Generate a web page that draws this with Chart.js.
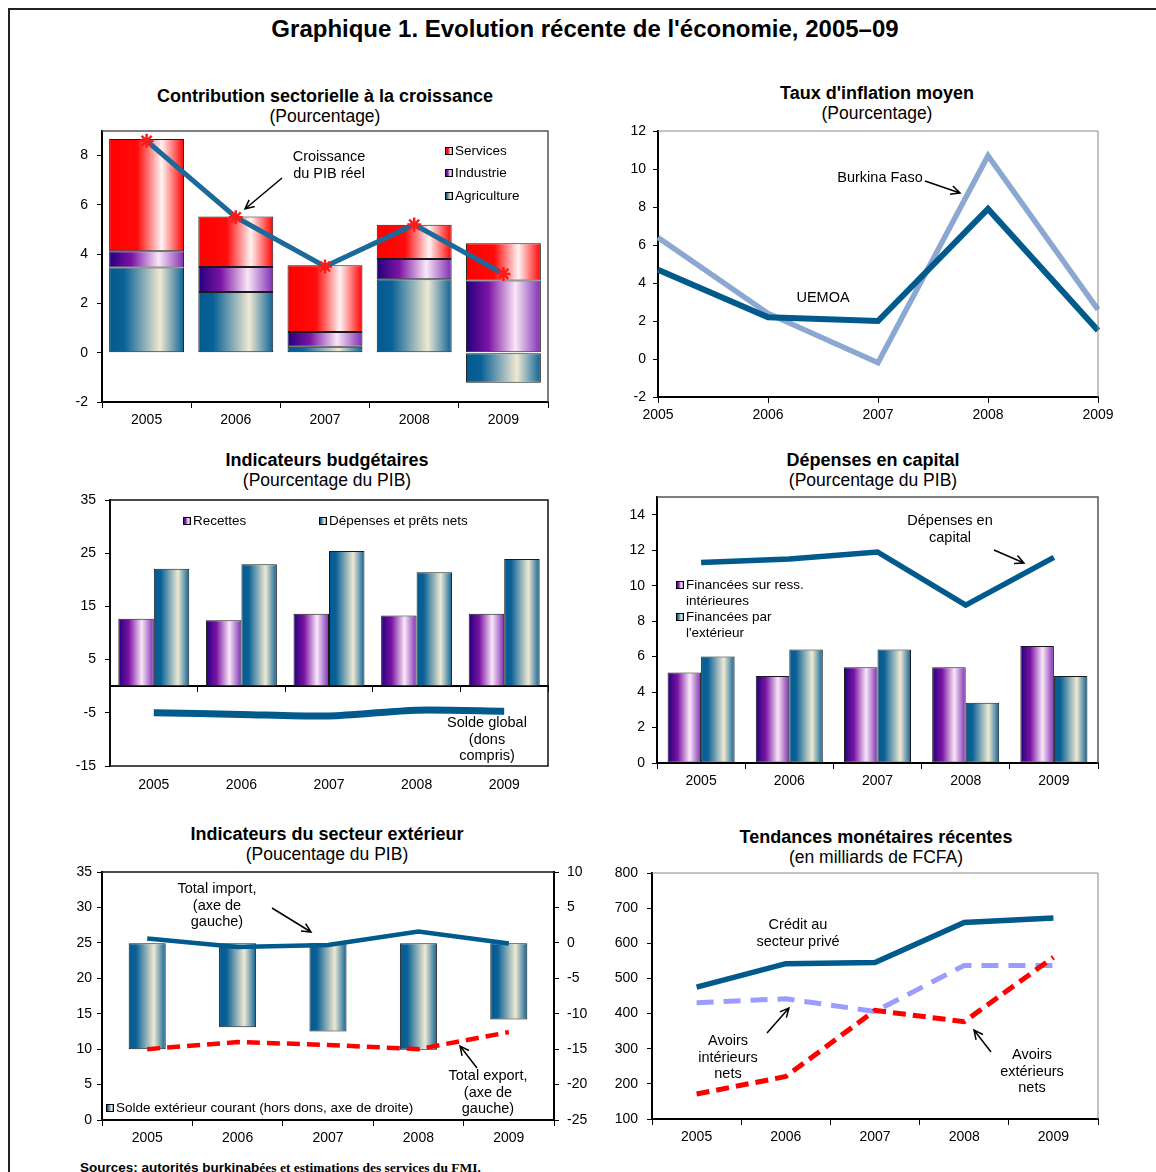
<!DOCTYPE html>
<html lang="fr">
<head>
<meta charset="utf-8">
<title>Graphique 1</title>
<script src="https://cdn.jsdelivr.net/npm/chart.js@4.4.1/dist/chart.umd.min.js"></script>
<style>
  body { margin: 0; background: #fff; width: 1156px; height: 1172px; overflow: hidden; position: relative;
         font-family: "Liberation Sans", Arial, sans-serif; color: #000; }
  #cadre { position: absolute; left: 8px; top: 8px; width: 1300px; height: 1300px;
           border-left: 2px solid #222; border-top: 2px solid #222; }
  .titre { position: absolute; transform: translateX(-50%); text-align: center; white-space: nowrap;
           font-size: 17.5px; line-height: 20px; }
  .titre b { display: block; font-size: 18px; }
  #grand { position: absolute; left: 585px; top: 15px; transform: translateX(-50%); white-space: nowrap;
           font-weight: bold; font-size: 24px; line-height: 28px; }
  #sources { position: absolute; left: 80px; top: 1160px; white-space: nowrap; font-weight: bold;
             font-size: 13.5px; line-height: 16px; }
  #sources span { font-family: "Liberation Serif", "Times New Roman", serif; }
  canvas { position: absolute; }
</style>
</head>
<body>
<div id="cadre"></div>
<div id="grand">Graphique 1. Evolution récente de l'économie, 2005–09</div>

<div class="titre" style="left:325px;top:86px"><b>Contribution sectorielle à la croissance</b>(Pourcentage)</div>
<div class="titre" style="left:877px;top:83px"><b>Taux d'inflation moyen</b>(Pourcentage)</div>
<div class="titre" style="left:327px;top:450px"><b>Indicateurs budgétaires</b>(Pourcentage du PIB)</div>
<div class="titre" style="left:873px;top:450px"><b>Dépenses en capital</b>(Pourcentage du PIB)</div>
<div class="titre" style="left:327px;top:824px"><b>Indicateurs du secteur extérieur</b>(Poucentage du PIB)</div>
<div class="titre" style="left:876px;top:827px"><b>Tendances monétaires récentes</b>(en milliards de FCFA)</div>

<canvas id="contrib"></canvas>
<canvas id="inflation"></canvas>
<canvas id="budget"></canvas>
<canvas id="capital"></canvas>
<canvas id="exterieur"></canvas>
<canvas id="monnaie"></canvas>

<div id="sources">Sources: autorités burkinab<span>ées et estimations des services du FMI.</span></div>

<script>
const years = ['2005', '2006', '2007', '2008', '2009'];

// Contribution sectorielle à la croissance (points de pourcentage)
const agriculture = [3.46, 2.46, 0.24, 2.98, -1.22];
const industrie = [0.66, 1.02, 0.60, 0.82, 2.93];
const services = [4.56, 2.05, 2.71, 1.39, 1.51];
const croissancePib = [8.6, 5.5, 3.5, 5.2, 3.2];

// Taux d'inflation moyen
const inflationBurkina = [6.4, 2.4, -0.2, 10.7, 2.6];
const inflationUemoa = [4.7, 2.2, 2.0, 7.9, 1.5];

// Indicateurs budgétaires (% du PIB)
const recettes = [12.7, 12.4, 13.6, 13.3, 13.6];
const depensesPrets = [22.1, 22.9, 25.4, 21.4, 23.9];
const soldeGlobal = [-5.0, -5.3, -5.6, -4.5, -4.7];

// Dépenses en capital (% du PIB)
const financeesInt = [5.1, 4.9, 5.4, 5.4, 6.6];
const financeesExt = [6.0, 6.4, 6.4, 3.4, 4.9];
const depensesCapital = [11.3, 11.5, 11.9, 8.9, 11.6];

// Secteur extérieur (% du PIB)
const soldeCourant = [-15.0, -11.9, -12.5, -15.1, -10.8];
const totalImport = [25.6, 24.4, 24.7, 26.6, 24.9];
const totalExport = [10.0, 11.0, 10.6, 10.0, 12.4];

// Tendances monétaires (milliards de FCFA)
const creditPrive = [475, 542, 545, 659, 672];
const avoirsInterieurs = [431, 442, 406, 537, 537];
const avoirsExterieurs = [171, 221, 409, 377, 560];

// axis ranges: [min, max, step]
const axeContrib = [-2, 9, 2];
const axeInflation = [-2, 12, 2];
const axeBudget = [-15, 35, 10];
const axeCapital = [0, 15, 2];
const axeExtGauche = [0, 35, 5];
const axeExtDroite = [-25, 10, 5];
const axeMonnaie = [100, 800, 100];

Chart.defaults.font.family = '"Liberation Sans", Arial, sans-serif';
Chart.defaults.font.size = 14;
Chart.defaults.color = '#000';
Chart.defaults.animation = false;
Chart.defaults.events = [];
Chart.defaults.plugins.legend.display = false;
Chart.defaults.plugins.tooltip.enabled = false;

const STOPS = {
  bleu:   [[0, '#025a90'], [0.2, '#0a6196'], [0.68, '#efe9d2'], [1, '#0a6196']],
  violet: [[0, '#22007c'], [0.3, '#7c14a4'], [0.66, '#f9e7f7'], [1, '#7e2cb2']],
  rouge:  [[0, '#ff0000'], [0.38, '#ff0b0b'], [0.7, '#fff4f4'], [1, '#ff0000']]
};

function hGrad(ctx, x0, x1, stops) {
  const g = ctx.createLinearGradient(x0, 0, x1, 0);
  stops.forEach(s => g.addColorStop(s[0], s[1]));
  return g;
}

// shade each bar left-to-right once its geometry is known
const barGradient = {
  id: 'barGradient',
  beforeDatasetsDraw(chart) {
    chart.data.datasets.forEach((ds, i) => {
      if (!ds.grad) return;
      chart.getDatasetMeta(i).data.forEach(bar => {
        const p = bar.getProps(['x', 'width'], true);
        bar.options.backgroundColor = hGrad(chart.ctx, p.x - p.width / 2, p.x + p.width / 2, STOPS[ds.grad]);
      });
    });
  }
};

function arrow(ctx, x1, y1, x2, y2) {
  const ang = Math.atan2(y2 - y1, x2 - x1), h = 10;
  ctx.beginPath();
  ctx.moveTo(x1, y1); ctx.lineTo(x2, y2);
  ctx.moveTo(x2 - h * Math.cos(ang - 0.45), y2 - h * Math.sin(ang - 0.45));
  ctx.lineTo(x2, y2);
  ctx.lineTo(x2 - h * Math.cos(ang + 0.45), y2 - h * Math.sin(ang + 0.45));
  ctx.stroke();
}

// plot frame, in-plot legends, labels and arrows (page coordinates)
const decor = {
  id: 'decor',
  afterDraw(chart, args, o) {
    if (!o || !o.off) return;
    const ctx = chart.ctx, a = chart.chartArea;
    const ox = o.off[0], oy = o.off[1];
    ctx.save();
    if (o.frame) {
      ctx.strokeStyle = o.frame.color;
      ctx.lineWidth = o.frame.width;
      ctx.beginPath();
      if (o.frame.all) {
        ctx.rect(a.left, a.top, a.right - a.left, a.bottom - a.top);
      } else {
        ctx.moveTo(a.left, a.top);
        ctx.lineTo(a.right, a.top);
        if (o.frame.right) ctx.lineTo(a.right, a.bottom);
      }
      ctx.stroke();
    }
    ctx.textBaseline = 'middle';
    ctx.font = '13.5px "Liberation Sans", Arial, sans-serif';
    ctx.textAlign = 'left';
    (o.legend || []).forEach(it => {
      const x = it.x - ox, y = it.y - oy;
      ctx.fillStyle = hGrad(ctx, x, x + 8, STOPS[it.grad]);
      ctx.fillRect(x, y - 4, 8, 8);
      ctx.strokeStyle = '#000';
      ctx.lineWidth = 1;
      ctx.strokeRect(x + 0.5, y - 3.5, 7, 7);
      ctx.fillStyle = '#000';
      it.lines.forEach((t, k) => ctx.fillText(t, x + 10, y + k * 16));
    });
    ctx.font = '14.5px "Liberation Sans", Arial, sans-serif';
    ctx.textAlign = 'center';
    ctx.fillStyle = '#000';
    (o.notes || []).forEach(n => {
      n.lines.forEach((t, k) => ctx.fillText(t, n.x - ox, n.y - oy + k * 16.7));
    });
    ctx.strokeStyle = '#000';
    ctx.lineWidth = 1.5;
    (o.arrows || []).forEach(r => arrow(ctx, r[0] - ox, r[1] - oy, r[2] - ox, r[3] - oy));
    ctx.restore();
  }
};

Chart.register(barGradient, decor);

function onStep(v, axe) {
  const k = (v - axe[0]) / axe[2];
  return Math.abs(k - Math.round(k)) < 1e-6;
}

function yScale(axe, width, pad, extra) {
  return Object.assign({
    min: axe[0], max: axe[1],
    afterFit: s => { s.width = width; },
    ticks: { stepSize: axe[2], padding: pad, callback: v => (onStep(v, axe) ? v : '') },
    grid: { drawOnChartArea: false, tickLength: 5,
            color: c => (c.tick && onStep(c.tick.value, axe) ? '#000' : 'rgba(0,0,0,0)') },
    border: { color: '#000', width: 2 }
  }, extra || {});
}

function xScale(offset, extra) {
  return Object.assign({
    offset: offset,
    afterFit: s => { s.height = 30; },
    ticks: { padding: 4, maxRotation: 0, autoSkip: false },
    grid: { offset: offset, drawOnChartArea: false, tickLength: 6, color: '#000' },
    border: { color: '#000', width: 2 }
  }, extra || {});
}

// box = [left, plot top, width, plot height + x axis]; 20px headroom above the plot
const HEAD = 20;
function panel(id, box, padRight, config) {
  const c = document.getElementById(id);
  const top = box[1] - HEAD;
  c.width = box[2];
  c.height = box[3] + HEAD;
  c.style.left = box[0] + 'px';
  c.style.top = top + 'px';
  config.options.responsive = false;
  config.options.layout = { padding: { top: HEAD, right: padRight, left: 0, bottom: 0 } };
  config.options.plugins.decor.off = [box[0], top];
  return new Chart(c, config);
}

const flat = () => '#888';

function barSet(label, data, grad, extra) {
  return Object.assign({
    type: 'bar', label: label, data: data, grad: grad, backgroundColor: flat,
    borderColor: '#1a1a1a', borderWidth: 1, borderSkipped: false, order: 2
  }, extra || {});
}

function lineSet(label, data, color, width, extra) {
  return Object.assign({
    type: 'line', label: label, data: data, borderColor: color, borderWidth: width,
    pointRadius: 0, fill: false, order: 0
  }, extra || {});
}

// Contribution sectorielle à la croissance
panel('contrib', [58, 131, 500, 301], 10, {
  type: 'bar',
  data: {
    labels: years,
    datasets: [
      barSet('Agriculture', agriculture, 'bleu'),
      barSet('Industrie', industrie, 'violet'),
      barSet('Services', services, 'rouge'),
      lineSet('Croissance du PIB réel', croissancePib, '#1b6a99', 5, {
        pointStyle: 'star', pointRadius: 7, pointBorderColor: '#ff1a1a',
        pointBackgroundColor: '#ff1a1a', pointBorderWidth: 2.5
      })
    ]
  },
  options: {
    datasets: { bar: { barPercentage: 0.84, categoryPercentage: 1 } },
    scales: {
      x: xScale(true, { stacked: true }),
      y: yScale(axeContrib, 44, 9, { stacked: true })
    },
    plugins: {
      decor: {
        frame: { color: '#555', width: 1.5, right: true },
        legend: [
          { x: 445, y: 151, grad: 'rouge', lines: ['Services'] },
          { x: 445, y: 173, grad: 'violet', lines: ['Industrie'] },
          { x: 445, y: 196, grad: 'bleu', lines: ['Agriculture'] }
        ],
        notes: [{ x: 329, y: 157, lines: ['Croissance', 'du PIB réel'] }],
        arrows: [[282, 178, 245, 209]]
      }
    }
  }
});

// Taux d'inflation moyen
panel('inflation', [612, 131, 510, 296], 24, {
  type: 'line',
  data: {
    labels: years,
    datasets: [
      lineSet('Burkina Faso', inflationBurkina, '#8aa8d2', 5.5, { order: 1 }),
      lineSet('UEMOA', inflationUemoa, '#005a8c', 6)
    ]
  },
  options: {
    scales: {
      x: xScale(false),
      y: yScale(axeInflation, 46, 7)
    },
    plugins: {
      decor: {
        frame: { color: '#888', width: 1, right: true },
        notes: [
          { x: 880, y: 178, lines: ['Burkina Faso'] },
          { x: 823, y: 298, lines: ['UEMOA'] }
        ],
        arrows: [[925, 181, 960, 193]]
      }
    }
  }
});

// Indicateurs budgétaires
panel('budget', [62, 500, 496, 296], 10, {
  type: 'bar',
  data: {
    labels: years,
    datasets: [
      barSet('Recettes', recettes, 'violet'),
      barSet('Dépenses et prêts nets', depensesPrets, 'bleu'),
      lineSet('Solde global (dons compris)', soldeGlobal, '#005a8c', 7, { tension: 0.25 })
    ]
  },
  options: {
    datasets: { bar: { barPercentage: 1, categoryPercentage: 0.81 } },
    scales: {
      x: xScale(true, {
        ticks: { padding: 11, maxRotation: 0, autoSkip: false },
        grid: { display: false, drawTicks: false },
        border: { display: false }
      }),
      zero: {
        axis: 'x', type: 'category', position: { y: 0 }, offset: true,
        ticks: { display: false },
        grid: { offset: true, drawOnChartArea: false, tickLength: 5, color: '#000' },
        border: { color: '#000', width: 2 }
      },
      y: yScale(axeBudget, 48, 9)
    },
    plugins: {
      decor: {
        frame: { color: '#111', width: 1.5, all: true },
        legend: [
          { x: 183, y: 521, grad: 'violet', lines: ['Recettes'] },
          { x: 319, y: 521, grad: 'bleu', lines: ['Dépenses et prêts nets'] }
        ],
        notes: [{ x: 487, y: 723, lines: ['Solde global', '(dons', 'compris)'] }]
      }
    }
  }
});

// Dépenses en capital
panel('capital', [611, 497, 499, 296], 12, {
  type: 'bar',
  data: {
    labels: years,
    datasets: [
      barSet('Financées sur ress. intérieures', financeesInt, 'violet'),
      barSet("Financées par l'extérieur", financeesExt, 'bleu'),
      lineSet('Dépenses en capital', depensesCapital, '#005a8c', 5.5)
    ]
  },
  options: {
    datasets: { bar: { barPercentage: 1, categoryPercentage: 0.76 } },
    scales: {
      x: xScale(true),
      y: yScale(axeCapital, 46, 7)
    },
    plugins: {
      decor: {
        frame: { color: '#555', width: 1.5, right: true },
        legend: [
          { x: 676, y: 585, grad: 'violet', lines: ['Financées sur ress.', 'intérieures'] },
          { x: 676, y: 617, grad: 'bleu', lines: ['Financées par', "l'extérieur"] }
        ],
        notes: [{ x: 950, y: 521, lines: ['Dépenses en', 'capital'] }],
        arrows: [[994, 550, 1024, 563]]
      }
    }
  }
});

// Indicateurs du secteur extérieur
panel('exterieur', [58, 872, 536, 278], 0, {
  type: 'bar',
  data: {
    labels: years,
    datasets: [
      barSet('Solde extérieur courant (hors dons, axe de droite)', soldeCourant, 'bleu', { yAxisID: 'y2' }),
      lineSet('Total import', totalImport, '#005a8c', 4.5),
      lineSet('Total export', totalExport, '#ff0000', 4.5, { borderDash: [13, 7] })
    ]
  },
  options: {
    datasets: { bar: { barPercentage: 0.41, categoryPercentage: 1 } },
    scales: {
      x: xScale(true),
      y: yScale(axeExtGauche, 44, 5),
      y2: yScale(axeExtDroite, 40, 8, { position: 'right' })
    },
    plugins: {
      decor: {
        frame: { color: '#111', width: 1.5, right: false },
        legend: [{ x: 106, y: 1108, grad: 'bleu', lines: ['Solde extérieur courant (hors dons, axe de droite)'] }],
        notes: [
          { x: 217, y: 889, lines: ['Total import,', '(axe de', 'gauche)'] },
          { x: 488, y: 1076, lines: ['Total export,', '(axe de', 'gauche)'] }
        ],
        arrows: [[272, 908, 311, 932], [477, 1068, 460, 1046]]
      }
    }
  }
});

// Tendances monétaires récentes
panel('monnaie', [602, 873, 508, 276], 12, {
  type: 'line',
  data: {
    labels: years,
    datasets: [
      lineSet('Crédit au secteur privé', creditPrive, '#005a8c', 5.5),
      lineSet('Avoirs intérieurs nets', avoirsInterieurs, '#9a9cff', 5, { borderDash: [17, 10], order: 1 }),
      lineSet('Avoirs extérieurs nets', avoirsExterieurs, '#ff0000', 5, { borderDash: [13, 7] })
    ]
  },
  options: {
    scales: {
      x: xScale(true),
      y: yScale(axeMonnaie, 50, 9)
    },
    plugins: {
      decor: {
        frame: { color: '#888', width: 1, right: true },
        notes: [
          { x: 798, y: 925, lines: ['Crédit au', 'secteur privé'] },
          { x: 728, y: 1041, lines: ['Avoirs', 'intérieurs', 'nets'] },
          { x: 1032, y: 1055, lines: ['Avoirs', 'extérieurs', 'nets'] }
        ],
        arrows: [[767, 1033, 789, 1008], [991, 1052, 974, 1030]]
      }
    }
  }
});
</script>
</body>
</html>
